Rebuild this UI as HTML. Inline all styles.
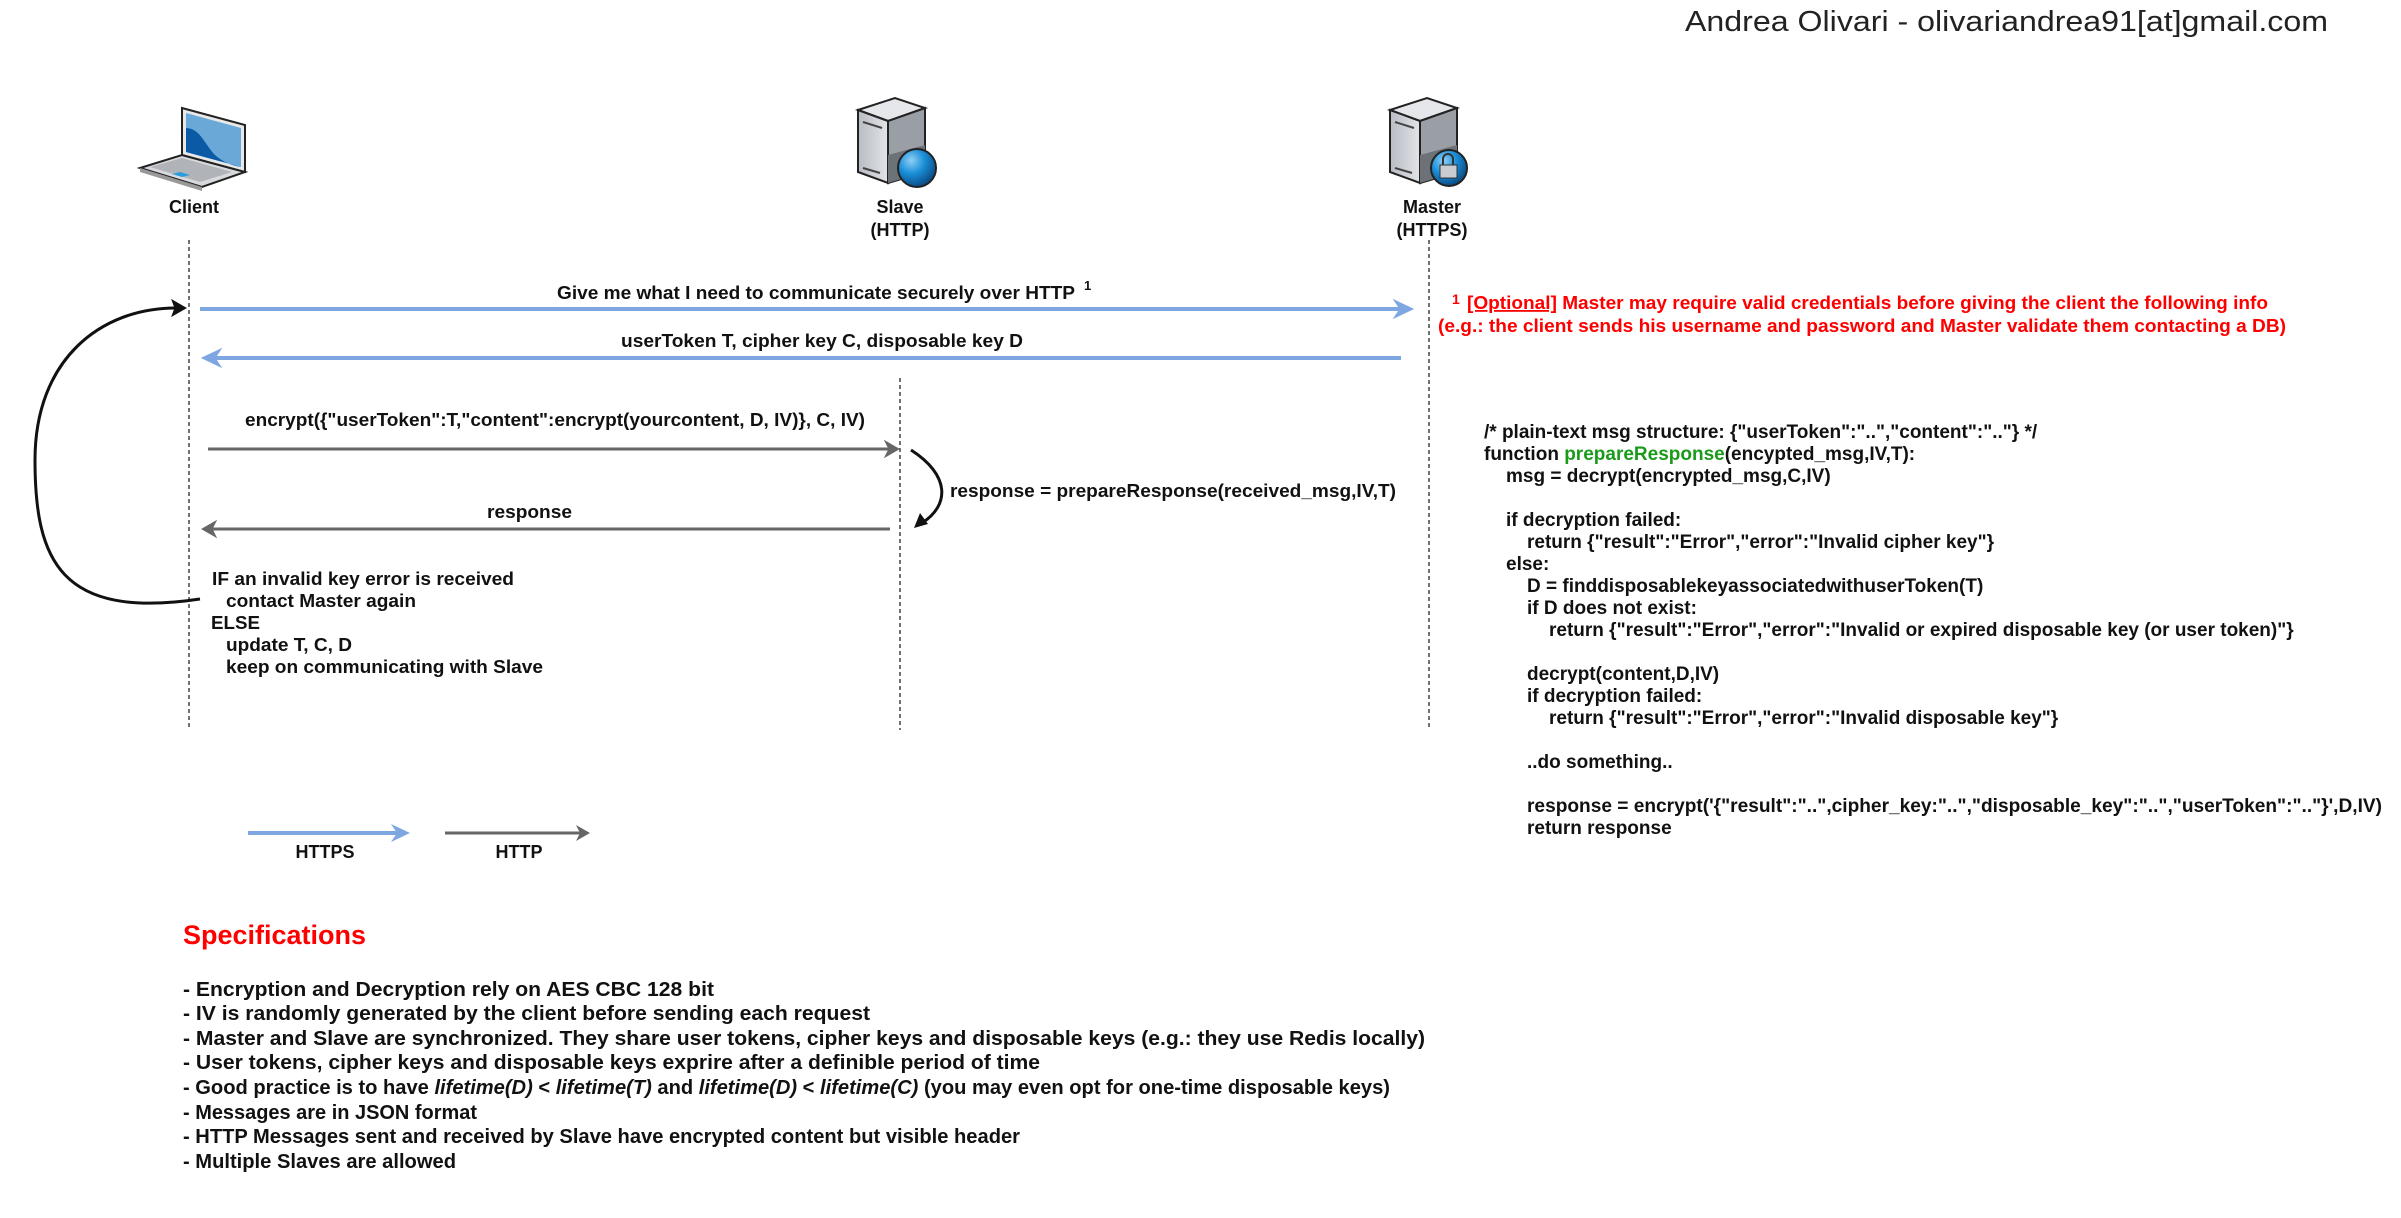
<!DOCTYPE html>
<html><head><meta charset="utf-8"><style>html,body{margin:0;padding:0;background:#fff}svg{display:block}</style></head>
<body>
<svg width="2401" height="1218" viewBox="0 0 2401 1218" xmlns="http://www.w3.org/2000/svg" font-family="Liberation Sans, Arial, sans-serif">
<defs>
<linearGradient id="sf" x1="0" x2="1"><stop offset="0" stop-color="#b8bcc4"/><stop offset="1" stop-color="#e2e4e8"/></linearGradient>
<radialGradient id="gl" cx="0.35" cy="0.3" r="0.7"><stop offset="0" stop-color="#8fd0f5"/><stop offset="0.5" stop-color="#1a8fd8"/><stop offset="1" stop-color="#0b4f8a"/></radialGradient>
<g id="srv">
<polygon points="858,110 895,98 925,108 888,121" fill="#e6e7ea" stroke="#222" stroke-width="2"/>
<polygon points="858,110 888,121 888,183 858,172" fill="url(#sf)" stroke="#222" stroke-width="2"/>
<polygon points="888,121 925,108 925,172 888,183" fill="#9a9ea5" stroke="#222" stroke-width="2"/>
<polygon points="888,155 925,145 925,172 888,183" fill="#6d7178"/>
<line x1="863" y1="122" x2="882" y2="128" stroke="#444" stroke-width="2"/>
<line x1="863" y1="168" x2="880" y2="173" stroke="#444" stroke-width="2"/>
</g>
</defs>

<text x="1685" y="31" font-size="29" fill="#222" textLength="643" lengthAdjust="spacingAndGlyphs">Andrea Olivari - olivariandrea91[at]gmail.com</text>

<!-- laptop -->
<polygon points="140,168 182,155 245,172 202,187" fill="#d8d9dc" stroke="#222" stroke-width="2"/>
<polygon points="140,168 202,187 202,191 140,172" fill="#999"/>
<polygon points="150,167 182,158 232,172 200,182" fill="#b0b3b8"/>
<polygon points="172,174 180,172 190,175 182,177" fill="#2b9be0"/>
<polygon points="182,108 245,125 245,172 182,155" fill="#e8e8e8" stroke="#222" stroke-width="2"/>
<polygon points="186,113 241,128 241,167 186,152" fill="#6aa8d8"/>
<path d="M186,128 C200,128 205,145 215,155 C225,164 235,166 241,167 L186,152 Z" fill="#0a5aa6"/>

<use href="#srv"/>
<circle cx="917" cy="168" r="19" fill="url(#gl)" stroke="#222" stroke-width="2"/>
<use href="#srv" transform="translate(532,0)"/>
<circle cx="1449" cy="168" r="18" fill="url(#gl)" stroke="#222" stroke-width="2"/>
<rect x="1440" y="165" width="17" height="13" fill="#c9ccd2" stroke="#333"/>
<path d="M1443,165 v-6 a5,5 0 0 1 10,0 v6" fill="none" stroke="#333" stroke-width="2"/>

<g font-weight="bold" font-size="18" fill="#111" text-anchor="middle">
<text x="194" y="213">Client</text>
<text x="900" y="213">Slave</text><text x="900" y="236">(HTTP)</text>
<text x="1432" y="213">Master</text><text x="1432" y="236">(HTTPS)</text>
</g>

<g stroke="#444" stroke-width="1.5" stroke-dasharray="4,3">
<line x1="189" y1="240" x2="189" y2="730"/>
<line x1="900" y1="378" x2="900" y2="730"/>
<line x1="1429" y1="240" x2="1429" y2="730"/>
</g>

<!-- blue arrows -->
<g stroke="#7EA6E0" stroke-width="4" fill="#7EA6E0">
<line x1="200" y1="309" x2="1400" y2="309"/>
<polygon points="1413,309 1394,300 1400,309 1394,318" stroke-width="1"/>
<line x1="1401" y1="358" x2="214" y2="358"/>
<polygon points="202,358 221,349 215,358 221,367" stroke-width="1"/>
</g>
<!-- gray arrows -->
<g stroke="#666" stroke-width="3" fill="#666">
<line x1="208" y1="449" x2="890" y2="449"/>
<polygon points="899,449 885,441 889,449 885,457" stroke-width="1"/>
<line x1="890" y1="529" x2="211" y2="529"/>
<polygon points="202,529 216,521 212,529 216,537" stroke-width="1"/>
</g>
<path d="M911,450 C950,475 950,505 922,523" fill="none" stroke="#111" stroke-width="3"/>
<polygon points="914,528 920,513 928,524" fill="#111"/>
<path d="M200,599 C60,620 35,560 35,460 C35,360 100,308 176,308" fill="none" stroke="#111" stroke-width="3"/>
<polygon points="186,308 172,300 175,308 172,316" fill="#111" stroke="#111"/>

<g font-weight="bold" font-size="18" fill="#111">
<text x="557" y="299" textLength="518" lengthAdjust="spacingAndGlyphs">Give me what I need to communicate securely over HTTP</text>
<text x="1084" y="290" font-size="13">1</text>
<text x="621" y="347" textLength="402" lengthAdjust="spacingAndGlyphs">userToken T, cipher key C, disposable key D</text>
<text x="245" y="426" textLength="620" lengthAdjust="spacingAndGlyphs">encrypt({"userToken":T,"content":encrypt(yourcontent, D, IV)}, C, IV)</text>
<text x="487" y="518" textLength="85" lengthAdjust="spacingAndGlyphs">response</text>
<text x="950" y="497" textLength="446" lengthAdjust="spacingAndGlyphs">response = prepareResponse(received_msg,IV,T)</text>
<text x="212" y="585" textLength="302" lengthAdjust="spacingAndGlyphs">IF an invalid key error is received</text>
<text x="226" y="607" textLength="190" lengthAdjust="spacingAndGlyphs">contact Master again</text>
<text x="211" y="629" textLength="49" lengthAdjust="spacingAndGlyphs">ELSE</text>
<text x="226" y="651" textLength="126" lengthAdjust="spacingAndGlyphs">update T, C, D</text>
<text x="226" y="673" textLength="317" lengthAdjust="spacingAndGlyphs">keep on communicating with Slave</text>
</g>

<g font-weight="bold" font-size="18" fill="#ff0000">
<text x="1452" y="304" font-size="14">1</text>
<text x="1467" y="309" textLength="801" lengthAdjust="spacingAndGlyphs"><tspan text-decoration="underline">[Optional]</tspan> Master may require valid credentials before giving the client the following info</text>
<text x="1438" y="332" textLength="848" lengthAdjust="spacingAndGlyphs">(e.g.: the client sends his username and password and Master validate them contacting a DB)</text>
</g>

<g font-weight="bold" font-size="19" fill="#111">
<text x="1484" y="438">/* plain-text msg structure: {"userToken":"..","content":".."}  */</text>
<text x="1484" y="460">function <tspan fill="#1a9a1a">prepareResponse</tspan>(encypted_msg,IV,T):</text>
<text x="1506" y="482">msg = decrypt(encrypted_msg,C,IV)</text>
<text x="1506" y="526">if decryption failed:</text>
<text x="1527" y="548">return {"result":"Error","error":"Invalid cipher key"}</text>
<text x="1506" y="570">else:</text>
<text x="1527" y="592">D = finddisposablekeyassociatedwithuserToken(T)</text>
<text x="1527" y="614">if D does not exist:</text>
<text x="1549" y="636">return {"result":"Error","error":"Invalid or expired disposable key (or user token)"}</text>
<text x="1527" y="680">decrypt(content,D,IV)</text>
<text x="1527" y="702">if decryption failed:</text>
<text x="1549" y="724">return {"result":"Error","error":"Invalid disposable key"}</text>
<text x="1527" y="768">..do something..</text>
<text x="1527" y="812" textLength="855" lengthAdjust="spacingAndGlyphs">response = encrypt('{"result":"..",cipher_key:"..","disposable_key":"..","userToken":".."}',D,IV)</text>
<text x="1527" y="834">return response</text>
</g>

<!-- legend -->
<line x1="248" y1="833" x2="398" y2="833" stroke="#7EA6E0" stroke-width="4"/>
<polygon points="410,833 391,824 397,833 391,842" fill="#7EA6E0"/>
<line x1="445" y1="833" x2="582" y2="833" stroke="#666" stroke-width="3"/>
<polygon points="590,833 576,825 580,833 576,841" fill="#666"/>
<g font-weight="bold" font-size="18" fill="#111" text-anchor="middle">
<text x="325" y="858">HTTPS</text>
<text x="519" y="858">HTTP</text>
</g>

<text x="183" y="944" font-weight="bold" font-size="27" fill="#ff0000" textLength="183" lengthAdjust="spacingAndGlyphs">Specifications</text>
<g font-weight="bold" font-size="20" fill="#111">
<text x="183" y="996" textLength="531" lengthAdjust="spacingAndGlyphs">- Encryption and Decryption rely on AES CBC 128 bit</text>
<text x="183" y="1020" textLength="687" lengthAdjust="spacingAndGlyphs">- IV is randomly generated by the client before sending each request</text>
<text x="183" y="1045" textLength="1242" lengthAdjust="spacingAndGlyphs">- Master and Slave are synchronized. They share user tokens, cipher keys and disposable keys (e.g.: they use Redis locally)</text>
<text x="183" y="1069" textLength="857" lengthAdjust="spacingAndGlyphs">- User tokens, cipher keys and disposable keys exprire after a definible period of time</text>
<text x="183" y="1094" textLength="1207" lengthAdjust="spacingAndGlyphs">- Good practice is to have <tspan font-style="italic">lifetime(D)</tspan> &lt; <tspan font-style="italic">lifetime(T)</tspan> and <tspan font-style="italic">lifetime(D)</tspan> &lt; <tspan font-style="italic">lifetime(C)</tspan> (you may even opt for one-time disposable keys)</text>
<text x="183" y="1119" textLength="294" lengthAdjust="spacingAndGlyphs">- Messages are in JSON format</text>
<text x="183" y="1143" textLength="837" lengthAdjust="spacingAndGlyphs">- HTTP Messages sent and received by Slave have encrypted content but visible header</text>
<text x="183" y="1168" textLength="273" lengthAdjust="spacingAndGlyphs">- Multiple Slaves are allowed</text>
</g>
</svg>
</body></html>
